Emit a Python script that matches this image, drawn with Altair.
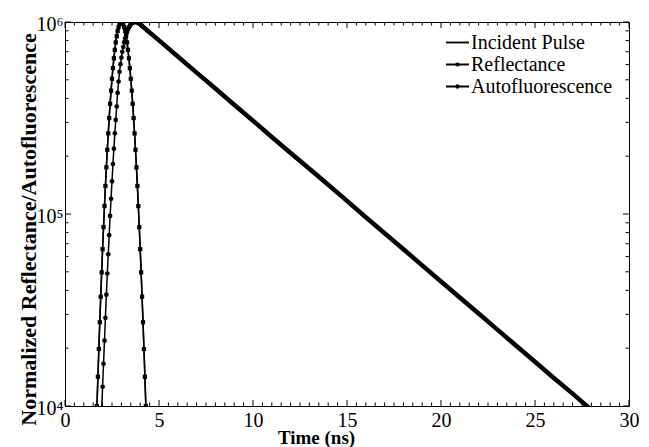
import altair as alt
import pandas as pd
import numpy as np

FONT = "Liberation Serif"

series_names = ["Incident Pulse", "Reflectance", "Autofluorescence"]

# Incident pulse / reflectance (ns, normalized counts)
pulse_t = [1.65, 1.70, 1.75, 1.80, 1.85, 1.90, 1.95, 2.00, 2.05, 2.10, 2.15, 2.20, 2.25, 2.30,
           2.35, 2.40, 2.45, 2.50, 2.55, 2.60, 2.65, 2.70, 2.75, 2.80, 2.85, 2.90, 2.95, 3.00,
           3.05, 3.10, 3.15, 3.20, 3.25, 3.30, 3.35, 3.40, 3.45, 3.50, 3.55, 3.60, 3.65, 3.70,
           3.75, 3.80, 3.85, 3.90, 3.95, 4.00, 4.05, 4.10, 4.15, 4.20, 4.25, 4.30, 4.35]
incident_y = [6980, 10000, 14200, 19800, 27300, 37100, 49700, 65600, 85500, 110000, 140000,
              175000, 216000, 263000, 316000, 375000, 439000, 506000, 575000, 647000, 716000,
              783000, 843000, 897000, 940000, 973000, 993000, 1000000, 993000, 973000, 940000,
              897000, 843000, 783000, 716000, 647000, 575000, 506000, 439000, 375000, 316000,
              263000, 216000, 175000, 140000, 110000, 85500, 65600, 49700, 37100, 27300, 19800,
              14200, 10000, 6980]
reflect_y = [6980, 10000, 14200, 19800, 27300, 37100, 49700, 65600, 85500, 110000, 140000,
             175000, 216000, 263000, 316000, 375000, 439000, 506000, 575000, 647000, 716000,
             783000, 843000, 897000, 940000, 973000, 993000, 1000000, 993000, 973000, 940000,
             897000, 843000, 783000, 716000, 647000, 575000, 506000, 439000, 375000, 316000,
             263000, 216000, 175000, 140000, 110000, 85500, 65600, 49700, 37100, 27300, 19800,
             14200, 10000, 6980]

# Autofluorescence
af_t = [1.90, 1.95, 2.00, 2.05, 2.10, 2.15, 2.20, 2.25, 2.30, 2.35, 2.40, 2.45, 2.50, 2.55,
        2.60, 2.65, 2.70, 2.75, 2.80, 2.85, 2.90, 2.95, 3.00, 3.05, 3.10, 3.15, 3.20, 3.25,
        3.30, 3.35, 3.40, 3.45, 3.50, 3.55, 3.60, 3.65, 3.70, 3.75, 3.80, 3.85, 3.90, 3.95,
        4.00, 4.05, 4.10, 5, 6, 7, 8, 9, 10, 11, 12, 13, 14, 15, 16, 17, 18, 19, 20, 21, 22,
        23, 24, 25, 26, 27, 28]
af_y = [7080, 9550, 12600, 16600, 21900, 28800, 38000, 49000, 61700, 77600, 97700, 120000,
        148000, 182000, 219000, 263000, 309000, 363000, 427000, 490000, 550000, 603000,
        653000, 700000, 741000, 785000, 822000, 857000, 887000, 914000, 938000, 957000,
        973000, 984000, 992000, 997000, 999000, 1000000, 1000000, 997000, 990000, 983000,
        975000, 965000, 953000, 802000, 661000, 545000, 450000, 371000, 306000, 252000,
        208000, 172000, 142000, 117000, 96200, 79400, 65500, 54000, 44500, 36700, 30300,
        25000, 20600, 17000, 14000, 11600, 9530]

x_major = [0, 5, 10, 15, 20, 25, 30]
x_minor = [v / 2 for v in range(0, 61) if v % 10 != 0]
y_major = [1e4, 1e5, 1e6]
y_minor = [2e4, 3e4, 4e4, 5e4, 6e4, 7e4, 8e4, 9e4, 2e5, 3e5, 4e5, 5e5, 6e5, 7e5, 8e5, 9e5]
y_tick_labels = ["10\u2074", "10\u2075", "10\u2076"]

BAR = "M-1,-0.08H1V0.08H-1Z"
legend_paths = [
    BAR,
    BAR + "M-0.16,-0.16H0.16V0.16H-0.16Z",
    BAR + "M0.19,0A0.19,0.19,0,1,1,-0.19,0A0.19,0.19,0,1,1,0.19,0Z",
]

W, H = 564, 384

inc_df = pd.DataFrame({"t": pulse_t, "y": incident_y})
ref_df = pd.DataFrame({"t": pulse_t, "y": reflect_y})
af_df = pd.DataFrame({"t": af_t, "y": af_y})
af_peak_df = af_df[af_df["t"] >= 3.75]
af_rise_df = af_df[af_df["t"] <= 4.1]

xscale = alt.Scale(domain=[0, 30], nice=False, zero=False)
yscale = alt.Scale(type="log", domain=[1e4, 1e6], nice=False)

label_expr = " : ".join(
    [f"datum.value >= {v} ? '{lab}'" for v, lab in zip(y_major[::-1], y_tick_labels[::-1])]
) + " : ''"

x_axis = alt.Axis(values=x_major, title="Time (ns)", format="d", ticks=False, tickSize=0,
                  domain=False, grid=False, labelPadding=4, labelFont=FONT, labelFontSize=20,
                  labelColor="black", labelFlush=False, labelOverlap=False, titleFont=FONT,
                  titleFontSize=19, titleFontWeight="bold", titleColor="black", titleX=251,
                  titleY=31, titleBaseline="middle", titleAlign="center")
y_axis = alt.Axis(values=y_major, labelExpr=label_expr, ticks=False, tickSize=0, domain=False,
                  grid=False, labelPadding=2, labelFont=FONT, labelFontSize=20,
                  labelColor="black", labelBaseline="middle", labelOffset=2, labelFlush=False,
                  labelOverlap=False, title="Normalized Reflectance/Autofluorescence",
                  titleFont=FONT, titleFontSize=22, titleFontWeight="bold", titleColor="black",
                  titleX=-37, titleY=207, titleBaseline="middle", titleAlign="center",
                  titleAngle=270)

X = lambda f="t:Q": alt.X(f, scale=xscale, axis=x_axis)
Y = lambda f="y:Q": alt.Y(f, scale=yscale, axis=y_axis)

incident = alt.Chart(inc_df).mark_line(color="black", strokeWidth=1.5, clip=True).encode(
    x=X(), y=Y())
reflect_line = alt.Chart(ref_df).mark_line(color="black", strokeWidth=1.5, clip=True).encode(
    x=X(), y=Y())
reflect_pts = alt.Chart(ref_df).mark_point(shape="square", filled=True, color="black", size=18,
                                           opacity=1, clip=True).encode(x=X(), y=Y())
af_line = alt.Chart(af_df).mark_line(color="black", strokeWidth=1.5, clip=True).encode(
    x=X(), y=Y())
af_thick = alt.Chart(af_peak_df).mark_line(color="black", strokeWidth=4.5, clip=True,
                                           strokeCap="round").encode(x=X(), y=Y())
af_pts = alt.Chart(af_rise_df).mark_point(shape="circle", filled=True, color="black", size=22,
                                          opacity=1, clip=True).encode(x=X(), y=Y())

legend_df = pd.DataFrame({"series": series_names, "t": [np.nan] * 3, "y": [np.nan] * 3})
legend_layer = alt.Chart(legend_df).mark_point(filled=True, color="black", opacity=1).encode(
    x=X(), y=Y(),
    shape=alt.Shape("series:N", scale=alt.Scale(domain=series_names, range=legend_paths),
                    legend=alt.Legend(title=None, orient="none", legendX=381, legendY=9,
                                      padding=0, symbolSize=529, symbolStrokeWidth=0,
                                      symbolFillColor="black", symbolOpacity=1,
                                      labelFont=FONT, labelFontSize=20, labelColor="black",
                                      labelOffset=2, rowPadding=0, labelLimit=300)),
)


def xticks(vals, length):
    d = pd.DataFrame({"v": vals})
    b = alt.Chart(d).mark_rule(color="black", strokeWidth=1).encode(
        x=X("v:Q"), y=alt.value(H), y2=alt.value(H - length))
    t = alt.Chart(d).mark_rule(color="black", strokeWidth=1).encode(
        x=X("v:Q"), y=alt.value(0), y2=alt.value(length))
    return [b, t]


def yticks(vals, length):
    d = pd.DataFrame({"v": vals})
    l = alt.Chart(d).mark_rule(color="black", strokeWidth=1).encode(
        y=Y("v:Q"), x=alt.value(0), x2=alt.value(length))
    r = alt.Chart(d).mark_rule(color="black", strokeWidth=1).encode(
        y=Y("v:Q"), x=alt.value(W), x2=alt.value(W - length))
    return [l, r]


tick_layers = xticks(x_major, 6) + xticks(x_minor, 3.5) + yticks(y_major, 6) + yticks(y_minor, 3.5)

chart = alt.layer(
    incident, reflect_line, af_line, af_thick, reflect_pts, af_pts, legend_layer, *tick_layers
).properties(
    width=W, height=H,
    autosize=alt.AutoSizeParams(type="none"),
    padding={"left": 57, "top": 14, "right": 12, "bottom": 41},
    background="white",
).configure_view(stroke="black", strokeWidth=1)

chart.save("out.html", embed_options={"renderer": "svg", "actions": False})
